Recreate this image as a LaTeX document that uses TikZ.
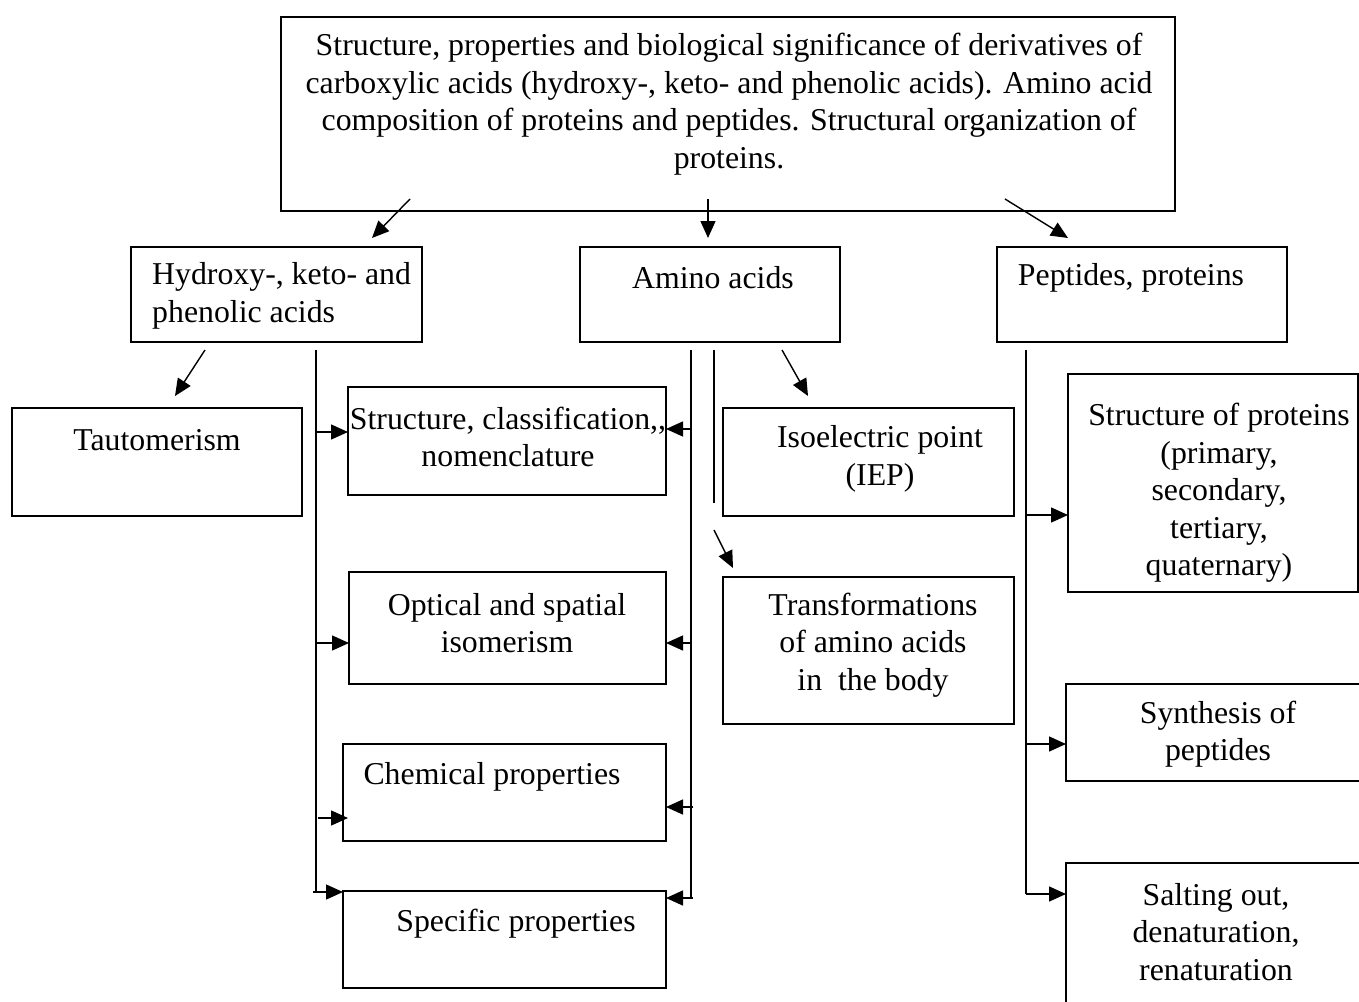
\documentclass[tikz,border=0pt]{standalone}
\usepackage{fontspec}
\setmainfont{Liberation Serif}
\usetikzlibrary{arrows.meta}
\begin{document}
\begin{tikzpicture}[x=1pt,y=-1pt,
  box/.style={draw, line width=1.6pt, inner sep=0pt, outer sep=0pt},
  txt/.style={font=\fontsize{31.8}{37.5}\selectfont, align=center, inner sep=0pt},
  conn/.style={line width=1.4pt},
  arr/.style={line width=1.4pt, -{Triangle[length=17pt,width=15pt]}}]
\useasboundingbox (0,0) rectangle (1359,1001);
\clip (0,0) rectangle (1359,1001);
% boxes
\node[box, minimum width=894pt, minimum height=194pt] (top) at (728,114) {};
\node[box, minimum width=291pt, minimum height=95pt] (hyd) at (276.5,294.5) {};
\node[box, minimum width=260pt, minimum height=95pt] (ami) at (710,294.5) {};
\node[box, minimum width=290pt, minimum height=95pt] (pep) at (1142,294.5) {};
\node[box, minimum width=290pt, minimum height=108pt] (tau) at (157,462) {};
\node[box, minimum width=318pt, minimum height=108pt] (sc) at (507,441) {};
\node[box, minimum width=317pt, minimum height=112pt] (opt) at (507.5,628) {};
\node[box, minimum width=323pt, minimum height=97pt] (chem) at (504.5,792.5) {};
\node[box, minimum width=323pt, minimum height=97pt] (spec) at (504.5,939.5) {};
\node[box, minimum width=291pt, minimum height=108pt] (iep) at (868.5,462) {};
\node[box, minimum width=291pt, minimum height=147pt] (trans) at (868.5,650.5) {};
\node[box, minimum width=290pt, minimum height=218pt] (sp) at (1213,483) {};
\node[box, minimum width=306pt, minimum height=97pt] (syn) at (1219,732.5) {};
\node[box, minimum width=306pt, minimum height=149pt] (salt) at (1219,937.5) {};
% texts
\node[txt] (toptxt) at (729,104) {Structure, properties and biological significance of derivatives of\\carboxylic acids (hydroxy-, keto- and phenolic acids). Amino acid\\composition of proteins and peptides. Structural organization of\\proteins.};
\node[txt, align=left, anchor=west] (hydtxt) at (152,296) {Hydroxy-, keto- and\\phenolic acids};
\node[txt] (amitxt) at (713,278) {Amino acids};
\node[txt] (peptxt) at (1131,278) {Peptides, proteins};
\node[txt] (tautxt) at (157,440) {Tautomerism};
\node[txt] (sctxt) at (508,437) {Structure, classification,{},\\nomenclature};
\node[txt] (opttxt) at (507,623) {Optical and spatial\\isomerism};
\node[txt] (chemtxt) at (492,777) {Chemical properties};
\node[txt] (spectxt) at (516,924) {Specific properties};
\node[txt] (ieptxt) at (880,459) {Isoelectric point\\(IEP)};
\node[txt] (transtxt) at (873,645) {Transformations\\of amino acids\\in\ \ the body};
\node[txt] (sptxt) at (1219,493) {Structure of proteins\\(primary,\\secondary,\\tertiary,\\quaternary)};
\node[txt] (syntxt) at (1218,734) {Synthesis of\\peptides};
\node[txt] (salttxt) at (1216,932) {Salting out,\\denaturation,\\renaturation};
% connector points
\coordinate (t1) at (410,199); \coordinate (t1e) at (372,238);
\coordinate (t2) at (708,199); \coordinate (t2e) at (708,238);
\coordinate (t3) at (1005,199); \coordinate (t3e) at (1068,238);
\coordinate (h0) at (205,350); \coordinate (h0e) at (175,396);
\coordinate (hA) at (316,350); \coordinate (hB) at (316,893);
\coordinate (aA) at (691,350); \coordinate (aB) at (691,898);
\coordinate (a2A) at (714,350); \coordinate (a2B) at (714,503);
\coordinate (a3) at (782,350); \coordinate (a3e) at (808,396);
\coordinate (a4) at (714,530); \coordinate (a4e) at (733,568);
\coordinate (pA) at (1026,350); \coordinate (pB) at (1026,894);
% top arrows
\draw[arr] (t1) -- (t1e);
\draw[arr] (t2) -- (t2e);
\draw[arr] (t3) -- (t3e);
% hydroxy branch
\draw[arr] (h0) -- (h0e);
\draw[conn] (hA) -- (hB);
\draw[arr] (316,432) -- (sc.west |- 0,432);
\draw[arr] (316,643) -- (opt.west |- 0,643);
\draw[arr] (318,818) -- (348,818);
\draw[arr] (313,892) -- (spec.west |- 0,892);
% amino branch
\draw[conn] (aA) -- (aB);
\draw[conn] (a2A) -- (a2B);
\draw[arr] (a3) -- (a3e);
\draw[arr] (a4) -- (a4e);
\draw[arr] (691,429) -- (sc.east |- 0,429);
\draw[arr] (691,643) -- (opt.east |- 0,643);
\draw[arr] (693,807) -- (chem.east |- 0,807);
\draw[arr] (693,898) -- (spec.east |- 0,898);
% peptides branch
\draw[conn] (pA) -- (pB);
\draw[arr] (1026,515) -- (sp.west |- 0,515);
\draw[arr] (1026,744) -- (syn.west |- 0,744);
\draw[arr] (1026,894) -- (salt.west |- 0,894);
\end{tikzpicture}
\end{document}
